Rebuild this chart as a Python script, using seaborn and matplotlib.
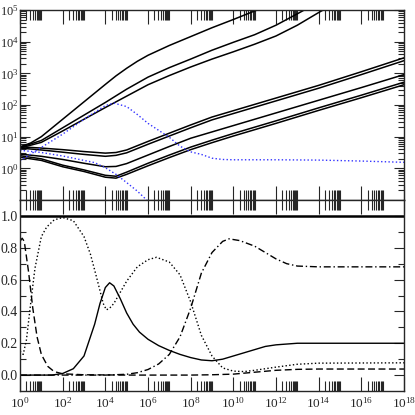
import numpy as np
import matplotlib
matplotlib.use('Agg')
import matplotlib.pyplot as plt
import matplotlib.ticker as mticker
import seaborn as sns

sns.set_style('ticks')
plt.rcParams['font.family'] = ['Liberation Serif', 'DejaVu Serif']
plt.rcParams['mathtext.fontset'] = 'stix'
plt.rcParams['font.size'] = 9

# ==============================
# TOP PANEL DATA (log10 x, log10 y)
# ==============================
u1_lx = [0, 0.5, 1, 2, 3, 4, 4.5, 5, 5.5, 6, 7, 8, 9, 10, 11, 12]
u1_ly = [0.68, 0.80, 1.00, 1.55, 2.10, 2.65, 2.92, 3.16, 3.38, 3.57, 3.88, 4.16, 4.44, 4.70, 4.97, 5.22]

u2_lx = [0, 1, 2, 3, 4, 5, 6, 7, 8, 9, 10, 11, 12, 13, 14]
u2_ly = [0.66, 0.88, 1.28, 1.68, 2.08, 2.50, 2.88, 3.18, 3.45, 3.73, 3.98, 4.22, 4.52, 4.88, 5.25]

u3_lx = [0, 1, 2, 3, 4, 5, 6, 7, 8, 9, 10, 11, 12, 13, 14, 15]
u3_ly = [0.64, 0.82, 1.18, 1.55, 1.92, 2.28, 2.64, 2.93, 3.20, 3.45, 3.68, 3.92, 4.18, 4.52, 4.92, 5.30]

l_lx = [0, 1, 2, 3, 4, 4.5, 5, 6, 7, 8, 9, 10, 12, 14, 16, 18]
l1_ly = [0.68, 0.64, 0.59, 0.53, 0.48, 0.50, 0.58, 0.85, 1.11, 1.37, 1.62, 1.82, 2.22, 2.62, 3.05, 3.49]
l2_ly = [0.64, 0.58, 0.51, 0.44, 0.38, 0.41, 0.49, 0.76, 1.02, 1.28, 1.53, 1.73, 2.13, 2.53, 2.96, 3.40]
l3_ly = [0.45, 0.38, 0.28, 0.16, 0.05, 0.06, 0.15, 0.42, 0.69, 0.95, 1.15, 1.35, 1.75, 2.15, 2.55, 2.96]
l4_ly = [0.40, 0.30, 0.10, -0.05, -0.22, -0.25, -0.12, 0.16, 0.42, 0.67, 0.89, 1.10, 1.50, 1.91, 2.31, 2.72]
l5_ly = [0.35, 0.25, 0.05, -0.10, -0.28, -0.31, -0.19, 0.08, 0.34, 0.59, 0.81, 1.02, 1.42, 1.83, 2.23, 2.64]

b1_lx = [0, 1, 2, 3, 4, 4.4, 5, 5.5, 6, 7, 7.5, 8, 8.5, 9, 9.5, 10, 12, 14, 16, 18]
b1_ly = [0.24, 0.66, 1.08, 1.55, 1.98, 2.06, 1.95, 1.70, 1.42, 0.98, 0.70, 0.52, 0.44, 0.32, 0.28, 0.27, 0.27, 0.26, 0.23, 0.19]

b2_lx = [0, 1, 2, 3, 3.5, 4, 4.5, 5, 5.5, 6, 6.5]
b2_ly = [0.57, 0.50, 0.39, 0.25, 0.18, 0.02, -0.19, -0.45, -0.72, -1.04, -1.35]

# ==============================
# BOTTOM PANEL DATA (log10 x, fraction)
# ==============================
s_lx = [0, 1, 1.5, 2, 2.5, 3, 3.5, 3.75, 4, 4.2, 4.4, 4.7, 5, 5.3, 5.6, 6, 6.5, 7, 7.5, 8, 8.5, 9, 9.5, 10, 10.5, 11, 11.5, 12, 13, 14, 18]
s_y = [0.0, 0.0, 0.0, 0.01, 0.04, 0.12, 0.32, 0.45, 0.55, 0.58, 0.56, 0.48, 0.39, 0.32, 0.27, 0.225, 0.185, 0.155, 0.13, 0.11, 0.095, 0.09, 0.10, 0.12, 0.14, 0.16, 0.18, 0.19, 0.20, 0.20, 0.20]

d_lx = [0, 0.15, 0.3, 0.5, 0.7, 1.0, 1.25, 1.6, 2, 2.5, 3, 3.3, 3.5, 3.75, 3.9, 4.05, 4.2, 4.4, 4.7, 5, 5.5, 6, 6.4, 7, 7.5, 8, 8.5, 9, 9.5, 10, 10.5, 11, 12, 13, 14, 18]
d_y = [0.15, 0.13, 0.22, 0.45, 0.67, 0.87, 0.93, 0.975, 0.99, 0.97, 0.87, 0.76, 0.66, 0.53, 0.45, 0.41, 0.42, 0.45, 0.52, 0.59, 0.68, 0.725, 0.74, 0.71, 0.63, 0.46, 0.25, 0.12, 0.045, 0.025, 0.022, 0.03, 0.05, 0.068, 0.075, 0.077]

dash_lx = [0, 0.1, 0.2, 0.4, 0.6, 0.8, 1.0, 1.3, 1.6, 2, 3, 5, 8, 9, 10, 11, 12, 13, 14, 18]
dash_y = [0.84, 0.86, 0.84, 0.65, 0.42, 0.24, 0.13, 0.055, 0.022, 0.008, 0.002, 0.0, 0.0, 0.002, 0.006, 0.018, 0.03, 0.036, 0.038, 0.038]

dd_lx = [0, 4, 5, 5.5, 6, 6.5, 7, 7.5, 8, 8.5, 9, 9.5, 9.8, 10.3, 11, 11.5, 12, 12.5, 13, 14, 18]
dd_y = [0.0, 0.0, 0.005, 0.015, 0.035, 0.07, 0.13, 0.24, 0.42, 0.64, 0.77, 0.84, 0.856, 0.845, 0.81, 0.77, 0.73, 0.70, 0.685, 0.68, 0.68]

total_lx = [0, 18]
total_y = [1.0, 1.0]


def pw(a):
    return 10.0 ** np.asarray(a, dtype=float)


fig = plt.figure(figsize=(4.15, 4.15), dpi=100)
ax1 = fig.add_axes([20 / 415, 215 / 415, 384 / 415, 190 / 415])
ax2 = fig.add_axes([20 / 415, 24 / 415, 384 / 415, 191 / 415])

# top panel
for ly in [l1_ly, l2_ly, l3_ly, l4_ly, l5_ly]:
    sns.lineplot(x=pw(l_lx), y=pw(ly), ax=ax1, color='black', lw=1.1, estimator=None)
for lx, ly in [(u1_lx, u1_ly), (u2_lx, u2_ly), (u3_lx, u3_ly)]:
    sns.lineplot(x=pw(lx), y=pw(ly), ax=ax1, color='black', lw=1.1, estimator=None)
for lx, ly in [(b1_lx, b1_ly), (b2_lx, b2_ly)]:
    sns.lineplot(x=pw(lx), y=pw(ly), ax=ax1, color='#3333ff', lw=1.0, ls=':', estimator=None)

# bottom panel
sns.lineplot(x=pw(total_lx), y=total_y, ax=ax2, color='black', lw=1.8, estimator=None)
sns.lineplot(x=pw(s_lx), y=s_y, ax=ax2, color='black', lw=1.0, estimator=None)
sns.lineplot(x=pw(d_lx), y=d_y, ax=ax2, color='black', lw=1.0, ls=':', estimator=None)
sns.lineplot(x=pw(dash_lx), y=dash_y, ax=ax2, color='black', lw=1.0, ls=(0, (5, 2.5)), estimator=None)
sns.lineplot(x=pw(dd_lx), y=dd_y, ax=ax2, color='black', lw=1.0, ls=(0, (5, 2, 1, 2)), estimator=None)

xminor = [m * 100.0 ** k for k in range(9) for m in range(2, 11)]
for ax in (ax1, ax2):
    ax.set_xscale('log')
    ax.set_xlim(1, 1e18)
    ax.xaxis.set_major_locator(mticker.FixedLocator([100.0 ** k for k in range(10)]))
    ax.xaxis.set_minor_locator(mticker.FixedLocator(xminor))
    ax.tick_params(axis='both', which='both', direction='in', top=True, right=True, width=0.8)
    ax.tick_params(axis='x', which='major', length=10)
    ax.tick_params(axis='x', which='minor', length=7)
    ax.tick_params(axis='y', which='major', length=7)
    ax.tick_params(axis='y', which='minor', length=4)
    for sp in ax.spines.values():
        sp.set_linewidth(1.0)
    ax.set_xlabel('')
    ax.set_ylabel('')

ax1.set_yscale('log')
ax1.set_ylim(0.1, 1e5)
ax1.yaxis.set_major_locator(mticker.FixedLocator([10.0 ** k for k in range(0, 6)]))
ax1.yaxis.set_minor_locator(mticker.LogLocator(base=10, subs=np.arange(2, 10), numticks=20))
ax1.yaxis.set_major_formatter(mticker.LogFormatterMathtext(base=10))
ax1.yaxis.set_minor_formatter(mticker.NullFormatter())
ax1.tick_params(axis='x', which='both', labelbottom=False)

ax2.set_ylim(-0.1, 1.1)
ax2.yaxis.set_major_locator(mticker.FixedLocator([0.0, 0.2, 0.4, 0.6, 0.8, 1.0]))
ax2.yaxis.set_minor_locator(mticker.FixedLocator([0.1, 0.3, 0.5, 0.7, 0.9]))
ax2.yaxis.set_major_formatter(mticker.FormatStrFormatter('%.1f'))
ax2.xaxis.set_major_formatter(mticker.LogFormatterMathtext(base=10))
ax2.xaxis.set_minor_formatter(mticker.NullFormatter())
ax2.tick_params(axis='y', pad=1.5, labelsize=10)
ax2.tick_params(axis='x', labelsize=9.5)
ax1.tick_params(axis='y', pad=1)

fig.savefig('out.png', dpi=100)
